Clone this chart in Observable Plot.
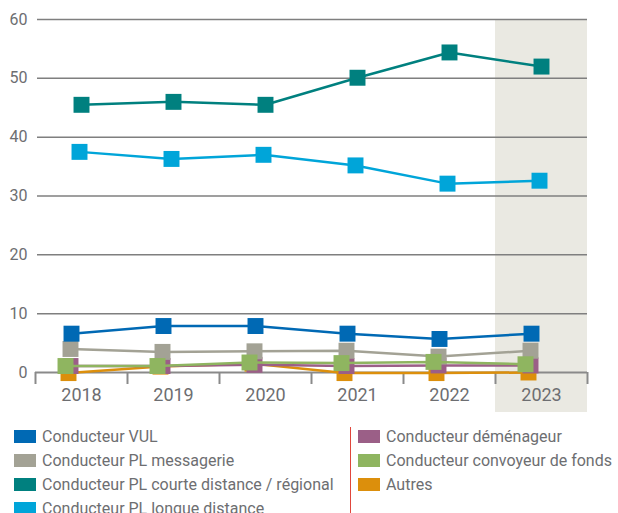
<!DOCTYPE html>
<html><head><meta charset="utf-8">
<script src="https://cdn.jsdelivr.net/npm/d3@7"></script>
<script src="https://cdn.jsdelivr.net/npm/@observablehq/plot@0.6"></script>
<style>
body{margin:0;background:#fff;font-family:Roboto,"Noto Sans",sans-serif;color:#6d6e71;overflow:hidden;}
#chart svg{display:block;}
#legend{display:flex;margin-top:4px;}
.col{display:flex;flex-direction:column;}
.col1{width:336px;padding-left:14px;}
.sep{width:1px;background:#e0463c;height:100px;margin-top:3px;}
.col2{padding-left:7px;}
.item{display:flex;align-items:center;height:24px;font-size:16px;white-space:nowrap;}
.sw{width:22px;height:13px;margin-right:6px;flex:none;}
</style></head><body>
<div id="chart"></div>
<div id="legend"></div>
<script>
const years = [2018, 2019, 2020, 2021, 2022, 2023];
const seriesNames = [
  "Conducteur VUL",
  "Conducteur PL messagerie",
  "Conducteur PL courte distance / régional",
  "Conducteur PL longue distance",
  "Conducteur déménageur",
  "Conducteur convoyeur de fonds",
  "Autres"
];
const vul        = [6.6, 7.9, 7.9, 6.6, 5.7, 6.6];
const messagerie = [4.0, 3.5, 3.6, 3.7, 2.7, 3.7];
const courte     = [45.5, 46.0, 45.5, 50.1, 54.4, 52.0];
const longue     = [37.5, 36.3, 37.0, 35.2, 32.1, 32.6];
const demenageur = [1.1, 1.1, 1.3, 1.1, 1.2, 1.2];
const convoyeur  = [1.1, 1.1, 1.7, 1.6, 1.8, 1.4];
const autres     = [-0.1, 1.0, 1.5, -0.1, -0.1, 0.0];
const yTicks = [0, 10, 20, 30, 40, 50, 60];

const seriesValues = [vul, messagerie, courte, longue, demenageur, convoyeur, autres];
const colors = ["#0069b4", "#a3a295", "#00807f", "#00a5d9", "#9b5f87", "#8fb560", "#dc8f0c"];
const offsets = [-10, -11, 0, -2, -11, -16, -13];
const drawOrder = [6, 4, 1, 5, 0, 3, 2];

const rows = seriesValues.map((vals, s) => years.map((yr, i) => ({year: yr, value: vals[i], s})));
const boundaries = years.map(y => y - 0.5).concat([years[years.length - 1] + 0.5]);

const marks = [
  Plot.rect([years[years.length - 1]], {x1: d => d - 0.5, x2: d => d + 0.5, fill: "#eae9e2", insetBottom: -40}),
  Plot.ruleY(yTicks.filter(v => v > 0), {stroke: "#7f7f7f", strokeWidth: 1.5, insetLeft: 2}),
  Plot.ruleY([0], {stroke: "#8a8a8a", strokeWidth: 2}),
  Plot.axisX(boundaries, {tickSize: 12, tickFormat: () => "", label: null, stroke: "#8a8a8a", strokeWidth: 2}),
  Plot.axisX(years, {tickSize: 0, tickPadding: 16, fontSize: 18, label: null, tickFormat: d => String(d), fill: "#6d6e71"}),
  Plot.axisY(yTicks, {tickSize: 0, tickPadding: 8, fontSize: 16, label: null, fill: "#6d6e71"})
];
for (const s of drawOrder) {
  marks.push(Plot.line(rows[s], {x: "year", y: "value", stroke: colors[s], strokeWidth: 2.5, dx: offsets[s]}));
  marks.push(Plot.dot(rows[s], {x: "year", y: "value", symbol: "square", r: 9, fill: colors[s], dx: offsets[s]}));
}

const chart = Plot.plot({
  width: 618,
  height: 420,
  marginLeft: 35,
  marginRight: 31,
  marginTop: 19,
  marginBottom: 48,
  style: {fontFamily: "Roboto, 'Noto Sans', sans-serif", color: "#6d6e71", background: "transparent", overflow: "visible"},
  x: {type: "linear", domain: [years[0] - 0.5, years[years.length - 1] + 0.5], label: null},
  y: {domain: [0, 60], label: null},
  marks
});
document.getElementById("chart").append(chart);

const legend = document.getElementById("legend");
const col1 = document.createElement("div"); col1.className = "col col1";
const sep = document.createElement("div"); sep.className = "sep";
const col2 = document.createElement("div"); col2.className = "col col2";
seriesNames.forEach((name, i) => {
  const item = document.createElement("div"); item.className = "item";
  const sw = document.createElement("span"); sw.className = "sw"; sw.style.background = colors[i];
  const t = document.createElement("span"); t.textContent = name;
  item.append(sw, t);
  (i < 4 ? col1 : col2).append(item);
});
legend.append(col1, sep, col2);
</script>
</body></html>
